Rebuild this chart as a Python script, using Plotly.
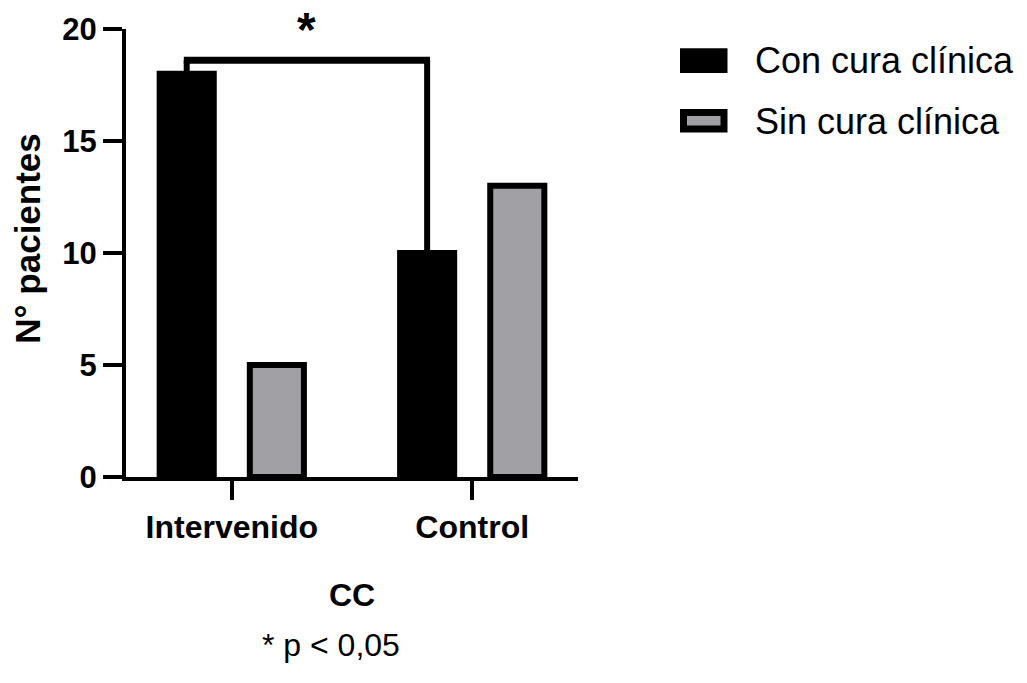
import plotly.graph_objects as go

# Patients per group, split by clinical cure outcome
groups = ["Intervenido", "Control"]
con_cura = [18, 10]
sin_cura = [5, 13]
series_names = ["Con cura clínica", "Sin cura clínica"]
y_ticks = [0, 5, 10, 15, 20]
bracket_level = 18.6
star_level = 20.0

BLACK = "#000000"
GREY = "#a1a0a5"
FONT = "Arial, Liberation Sans, sans-serif"

W, H = 1027, 683
L, R, T, B = 126, 449, 24, 206
BARGAP = 0.25
BARGROUPGAP = 0.4

fig = go.Figure()
fig.add_trace(go.Bar(x=groups, y=con_cura, name=series_names[0],
                     marker=dict(color=BLACK, line=dict(color=BLACK, width=6)),
                     showlegend=False))
fig.add_trace(go.Bar(x=groups, y=sin_cura, name=series_names[1],
                     marker=dict(color=GREY, line=dict(color=BLACK, width=6)),
                     showlegend=False))

# offset of the first bar of each group from the category centre
slot = (1 - BARGAP) / 2
off = -slot / 2
x_left = 0 + off
x_right = 1 + off

shapes = [
    dict(type="line", xref="x", yref="y", x0=x_left, x1=x_left,
         y0=con_cura[0], y1=bracket_level, line=dict(color=BLACK, width=6)),
    dict(type="line", xref="x", yref="y", x0=x_right, x1=x_right,
         y0=con_cura[1], y1=bracket_level, line=dict(color=BLACK, width=6)),
    dict(type="line", xref="x", yref="y", x0=x_left - 0.012, x1=x_right + 0.012,
         y0=bracket_level, y1=bracket_level, line=dict(color=BLACK, width=7)),
]

pw = W - L - R
ph = H - T - B


def px_x(p):
    return (p - L) / pw


def px_y(p):
    return (H - B - p) / ph


# legend swatches
shapes.append(dict(type="rect", xref="paper", yref="paper",
                   x0=px_x(680), x1=px_x(727.5), y0=px_y(68.5), y1=px_y(43.5),
                   fillcolor=BLACK, line=dict(width=0)))
shapes.append(dict(type="rect", xref="paper", yref="paper",
                   x0=px_x(683.5), x1=px_x(724), y0=px_y(125), y1=px_y(108.5),
                   fillcolor=GREY, line=dict(color=BLACK, width=7)))

annotations = [
    dict(text="<b>*</b>", xref="x", yref="y", x=(x_left + x_right) / 2, y=star_level,
         showarrow=False, font=dict(family=FONT, size=48, color=BLACK),
         xanchor="center", yanchor="middle"),
    dict(text=series_names[0], xref="paper", yref="paper", x=px_x(753), y=px_y(56),
         showarrow=False, xanchor="left", yanchor="middle",
         font=dict(family=FONT, size=36, color=BLACK)),
    dict(text=series_names[1], xref="paper", yref="paper", x=px_x(753), y=px_y(118),
         showarrow=False, xanchor="left", yanchor="middle",
         font=dict(family=FONT, size=36, color=BLACK)),
    dict(text="<b>N° pacientes</b>", xref="paper", yref="paper", x=px_x(28), y=px_y(236),
         showarrow=False, textangle=-90, xanchor="center", yanchor="middle",
         font=dict(family=FONT, size=35, color=BLACK)),
    dict(text="<b>CC</b>", xref="paper", yref="paper", x=0.5, y=px_y(596),
         showarrow=False, xanchor="center", yanchor="middle",
         font=dict(family=FONT, size=32, color=BLACK)),
    dict(text="* p < 0,05", xref="paper", yref="paper", x=px_x(331), y=px_y(647),
         showarrow=False, xanchor="center", yanchor="middle",
         font=dict(family=FONT, size=32, color=BLACK)),
]

fig.update_layout(
    width=W, height=H, autosize=False,
    margin=dict(l=L, r=R, t=T, b=B, pad=0),
    plot_bgcolor="white", paper_bgcolor="white",
    barmode="group", bargap=BARGAP, bargroupgap=BARGROUPGAP,
    shapes=shapes, annotations=annotations,
    xaxis=dict(range=[-0.44, 1.44], showline=True, linecolor=BLACK, linewidth=4,
               ticks="outside", ticklen=19, tickwidth=4, tickcolor=BLACK,
               tickfont=dict(family=FONT, size=32, color=BLACK, weight="bold"),
               showgrid=False, zeroline=False, fixedrange=True),
    yaxis=dict(range=[0, 20], tickvals=y_ticks, showline=True, linecolor=BLACK,
               linewidth=4, ticks="outside", ticklen=19, tickwidth=4,
               tickcolor=BLACK,
               tickfont=dict(family=FONT, size=31, color=BLACK, weight="bold"),
               showgrid=False, zeroline=False, fixedrange=True),
)

fig.write_html("out.html", config={"displayModeBar": False})
